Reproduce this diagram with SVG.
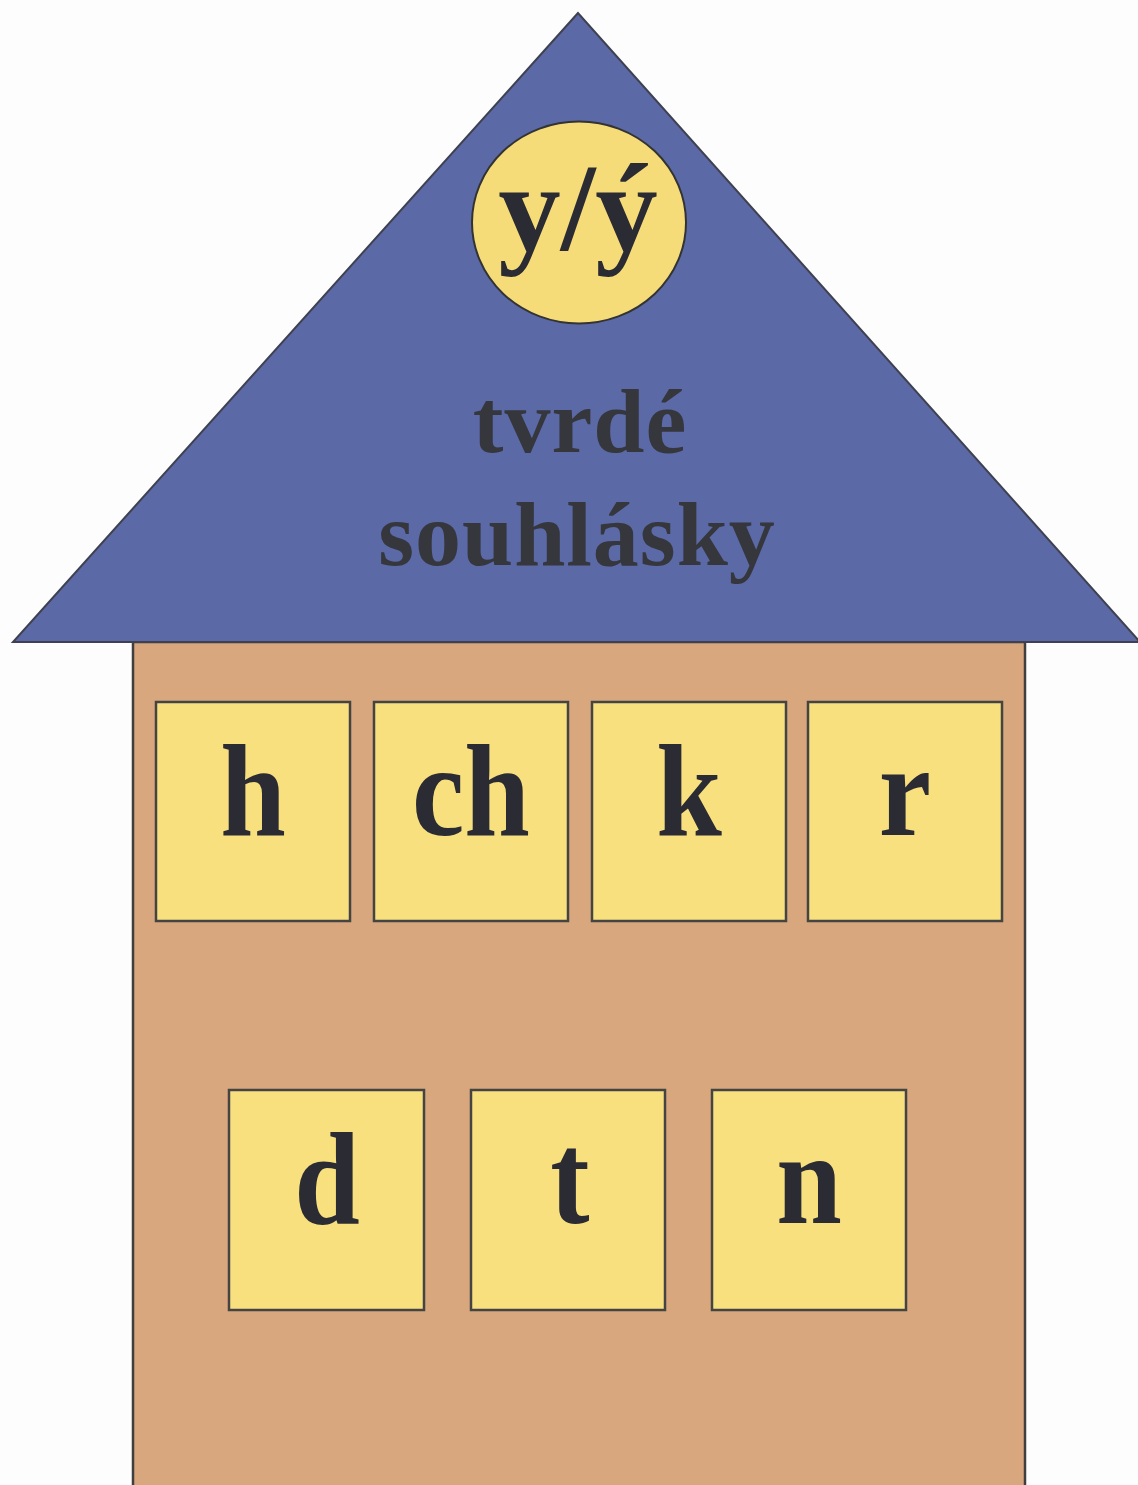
<svg xmlns="http://www.w3.org/2000/svg" width="1138" height="1485" viewBox="0 0 1138 1485">
  <style>
    .roof { fill: #5b69a6; stroke: #3f4150; stroke-width: 2; }
    .body { fill: #d9a77d; stroke: #3f3f3f; stroke-width: 2.5; }
    .box { fill: #f8e07f; stroke: #444; stroke-width: 2.5; }
    .badge { fill: #f6dc78; stroke: #333; stroke-width: 2; }
    .letter { font-family: "Liberation Serif", "Times New Roman", serif; font-weight: bold; fill: #2b2b33; text-anchor: middle; }
    .roofText { font-family: "Liberation Serif", "Times New Roman", serif; font-weight: bold; fill: #35373d; text-anchor: middle; font-size: 92px; letter-spacing: 1px; }
  </style>
  <rect x="0" y="0" width="1138" height="1485" fill="#fdfdfd"/>

  <g id="body">
    <rect class="body" x="133" y="642" width="892" height="850"/>
  </g>

  <g id="roof">
    <polygon class="roof" points="578,13 13,642 1140,642"/>
  </g>

  <g id="badge">
    <ellipse class="badge" cx="579" cy="222.5" rx="107" ry="101"/>
    <text class="letter" x="578" y="250" font-size="125">y/ý</text>
  </g>

  <g id="roof-label">
    <text class="roofText" x="580" y="452">tvrdé</text>
    <text class="roofText" x="577" y="565">souhlásky</text>
  </g>

  <g id="box-h">
    <rect class="box" x="156" y="702" width="194" height="219"/>
    <text class="letter" transform="translate(253,835) scale(1,1.12)" font-size="118">h</text>
  </g>
  <g id="box-ch">
    <rect class="box" x="374" y="702" width="194" height="219"/>
    <text class="letter" transform="translate(471,835) scale(1,1.12)" font-size="118">ch</text>
  </g>
  <g id="box-k">
    <rect class="box" x="592" y="702" width="194" height="219"/>
    <text class="letter" transform="translate(689,835) scale(1,1.12)" font-size="118">k</text>
  </g>
  <g id="box-r">
    <rect class="box" x="808" y="702" width="194" height="219"/>
    <text class="letter" transform="translate(905,835) scale(1,1.12)" font-size="118">r</text>
  </g>

  <g id="box-d">
    <rect class="box" x="229" y="1090" width="195" height="220"/>
    <text class="letter" transform="translate(327,1223) scale(1,1.12)" font-size="118">d</text>
  </g>
  <g id="box-t">
    <rect class="box" x="471" y="1090" width="194" height="220"/>
    <text class="letter" transform="translate(570,1223) scale(1,1.12)" font-size="118">t</text>
  </g>
  <g id="box-n">
    <rect class="box" x="712" y="1090" width="194" height="220"/>
    <text class="letter" transform="translate(809,1223) scale(1,1.12)" font-size="118">n</text>
  </g>

  <g id="connectors"></g>
</svg>
